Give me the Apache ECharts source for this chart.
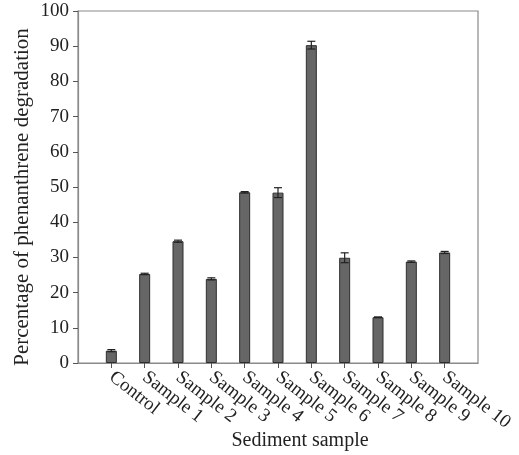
<!DOCTYPE html>
<html><head><meta charset="utf-8">
<script src="https://cdn.jsdelivr.net/npm/echarts@6/dist/echarts.min.js"></script>
<style>html,body{margin:0;padding:0;background:#fff}#c{width:519px;height:455px}</style>
</head><body><div id="c"></div>
<script>
var categories = ['Control','Sample 1','Sample 2','Sample 3','Sample 4','Sample 5','Sample 6','Sample 7','Sample 8','Sample 9','Sample 10'];
var values = [3.5, 25.3, 34.6, 23.9, 48.5, 48.4, 90.3, 29.9, 13.0, 28.8, 31.4];
var errors = [0.3, 0.2, 0.3, 0.3, 0.2, 1.4, 1.1, 1.4, 0.1, 0.2, 0.3];
var yTicks = [0, 10, 20, 30, 40, 50, 60, 70, 80, 90, 100];

var font = 'Liberation Serif';
var barData = values.map(function(v, i){ return [i + 1, v]; });
var errData = values.map(function(v, i){ return [i + 1, v - errors[i], v + errors[i]]; });

var chart = echarts.init(document.getElementById('c'), null, {renderer: 'canvas'});
chart.setOption({
  animation: false,
  backgroundColor: '#fff',
  grid: {left: 78, right: 41, top: 11, bottom: 92, containLabel: false, outerBoundsMode: 'none',
         show: true, borderColor: '#8a8a8a', borderWidth: 1.2},
  xAxis: {
    type: 'value', min: 0, max: categories.length + 1, interval: 1,
    splitLine: {show: false},
    axisLine: {lineStyle: {color: '#8a8a8a', width: 1.2}},
    axisTick: {show: true, length: 5, lineStyle: {color: '#555'}},
    axisLabel: {
      rotate: -38, margin: 12, align: 'left', verticalAlign: 'middle',
      fontFamily: font, fontSize: 19, color: '#222',
      showMinLabel: false, showMaxLabel: false,
      formatter: function(v){ return categories[v - 1] || ''; }
    },
    name: 'Sediment sample', nameLocation: 'middle', nameGap: 68, nameMoveOverlap: false,
    nameTextStyle: {fontFamily: font, fontSize: 20, color: '#222', padding: [0, 0, 0, 44]}
  },
  yAxis: {
    type: 'value', min: yTicks[0], max: yTicks[yTicks.length - 1], interval: 10,
    splitLine: {show: false},
    axisLine: {show: true, lineStyle: {color: '#8a8a8a', width: 1.2}},
    axisTick: {show: true, length: 5, lineStyle: {color: '#555'}},
    axisLabel: {fontFamily: font, fontSize: 19, color: '#222', margin: 9},
    name: 'Percentage of phenanthrene degradation', nameLocation: 'middle', nameGap: 45, nameMoveOverlap: false,
    nameTextStyle: {fontFamily: font, fontSize: 21, color: '#222', padding: [0, 20, 0, 0]}
  },
  series: [
    {
      type: 'bar', data: barData, barWidth: 11,
      itemStyle: {color: '#666666', borderColor: '#2e2e2e', borderWidth: 1}
    },
    {
      type: 'custom', data: errData, z: 5,
      renderItem: function(params, api){
        var x = api.value(0);
        var lo = api.coord([x, api.value(1)]);
        var hi = api.coord([x, api.value(2)]);
        var w = 4;
        var st = {stroke: '#222', lineWidth: 1.2};
        return {type: 'group', children: [
          {type: 'line', shape: {x1: lo[0], y1: lo[1], x2: hi[0], y2: hi[1]}, style: st},
          {type: 'line', shape: {x1: hi[0] - w, y1: hi[1], x2: hi[0] + w, y2: hi[1]}, style: st},
          {type: 'line', shape: {x1: lo[0] - w, y1: lo[1], x2: lo[0] + w, y2: lo[1]}, style: st}
        ]};
      }
    }
  ]
});
</script></body></html>
